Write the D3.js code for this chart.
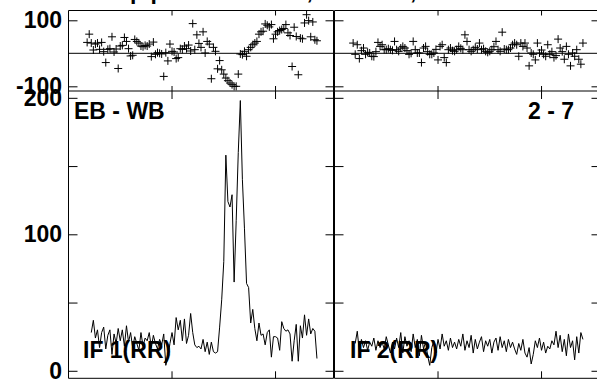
<!DOCTYPE html>
<html><head><meta charset="utf-8">
<script src="https://cdn.jsdelivr.net/npm/d3@7"></script>
<style>
html,body{margin:0;padding:0;background:#fff;}
svg{display:block;}
text{font-family:"Liberation Sans",Arial,Helvetica,sans-serif;font-weight:bold;font-size:23px;fill:#000;}
</style>
</head><body>
<svg id="chart" width="597" height="380"></svg>
<script>
// ---------- DATA ----------
const title = "Amp/phase vs. sec., EB - WB, uncalibrated";
const panelLabels = ["EB - WB", "2 - 7"];
const ifLabels = ["IF 1(RR)", "IF 2(RR)"];
const ampTicks = [0, 50, 100, 150, 200];
const ampTickLabels = ["0", "", "100", "", "200"];
const phaseTicks = [-100, 100];
const phaseTickLabels = ["-100", "100"];
const chanTicks = [50, 100];

// IF 1 amplitude, channels 11..120
const ampStart1 = 11;
const amp1 = [28,37,24,30,17,28,32,16,26,30,12,27,20,31,22,30,18,33,21,28,
  17,25,20,15,28,18,24,22,28,17,26,20,16,23,19,27,4,10,20,28,
  19,39,30,37,22,38,20,26,42,28,19,17,18,16,23,14,21,12,21,14,
  13,14,32,52,80,158,124,120,129,65,110,160,198,140,104,64,61,35,45,31,
  22,35,26,27,19,28,30,10,25,25,24,15,36,31,29,30,27,7,22,34,
  7,33,24,41,26,38,27,31,29,9];
// IF 2 amplitude, channels 10..120
const ampStart2 = 10;
const amp2 = [20,29,14,23,17,22,15,21,18,24,15,22,17,21,16,25,19,13,21,16,
  24,17,28,13,25,18,22,14,27,17,23,11,26,16,21,11,4,17,22,13,
  23,16,27,18,22,15,24,17,21,16,23,18,27,15,22,17,26,13,23,16,
  21,25,14,22,18,23,13,21,24,15,25,17,22,14,23,17,21,16,12,20,
  15,23,13,10,17,5,12,22,17,24,15,21,13,18,16,22,19,29,17,26,
  14,23,11,27,17,22,8,25,13,28,23];
// IF 1 phase (deg), channels 9..120
const phStart1 = 9;
const phase1 = [33,58,31,10,28,31,12,33,5,-28,12,14,50,4,13,-46,22,24,48,36,
  14,-8,-6,42,36,31,22,20,24,22,28,-10,34,-3,2,0,-2,-70,2,-23,
  28,6,4,-16,-13,14,12,22,14,25,7,90,11,56,30,18,65,1,36,28,
  -77,18,6,-47,-22,-50,-63,-75,-83,-90,-95,-100,-100,-63,-2,-4,6,-9,11,18,
  26,31,36,58,65,67,89,85,80,87,44,58,65,69,72,75,87,62,54,-40,
  79,51,-65,46,44,92,117,99,50,95,41,38];
// IF 2 phase (deg), channels 9..120
const phStart2 = 9;
const phase2 = [31,-3,26,-16,8,16,-3,3,1,-9,-10,5,33,21,26,11,11,14,11,9,
  36,11,6,16,21,16,8,-3,0,36,11,1,1,-28,16,21,5,-3,-3,1,
  12,-20,21,26,-13,-28,11,16,8,6,11,21,15,11,56,36,11,6,11,18,
  13,31,11,14,6,3,6,11,20,36,11,6,64,13,11,11,16,26,31,26,
  -9,31,21,31,16,-38,1,-3,-20,31,1,10,-3,-9,26,-3,5,-13,-7,43,
  16,5,-18,21,-3,-38,1,-9,11,-18,-33,31];

// ---------- LAYOUT ----------
const svg = d3.select("#chart");
const panels = [
  {x0: 68.5, x1: 333.5, amp: amp1, ampStart: ampStart1, ph: phase1, phStart: phStart1, label: panelLabels[0], ifl: ifLabels[0], left: true},
  {x0: 334.5, x1: 599.5, amp: amp2, ampStart: ampStart2, ph: phase2, phStart: phStart2, label: panelLabels[1], ifl: ifLabels[1], left: false}
];
const yP = d3.scaleLinear().domain([-114.2, 129.7]).range([91, 10.5]);
const yA = d3.scaleLinear().domain([-5.5, 205]).range([378.3, 91]);

svg.append("text").attr("x", 93).attr("y", -1.5).text(title);

panels.forEach((p, i) => {
  const x = d3.scaleLinear().domain([0, 128]).range([p.x0, p.x1]);
  const g = svg.append("g");
  const line = (x1,y1,x2,y2) => g.append("line").attr("x1",x1).attr("y1",y1).attr("x2",x2).attr("y2",y2)
      .attr("stroke","#000").attr("stroke-width",1);

  // frames
  [[p.x0,10.5,p.x1,10.5],[p.x0,91,p.x1,91],[p.x0,378.3,p.x1,378.3],
   [p.x0,10.5,p.x0,378.3],[p.x1,10.5,p.x1,378.3]].forEach(a => line(...a));
  // zero phase line
  line(p.x0, yP(0), p.x1, yP(0));

  // x ticks
  chanTicks.forEach(c => {
    const xx = x(c);
    line(xx, 10.5, xx, 15.5);
    line(xx, 91, xx, 86);
    line(xx, 91, xx, 99);
    line(xx, 378.3, xx, 371.3);
  });

  // y axes (inward ticks) via d3.axis
  const fmtA = d => ampTickLabels[ampTicks.indexOf(d)];
  const fmtP = d => phaseTickLabels[phaseTicks.indexOf(d)];
  const axA = g.append("g").attr("transform", `translate(${p.x0},0)`)
    .call(d3.axisLeft(yA).tickValues(ampTicks).tickSizeInner(-9).tickSizeOuter(0).tickPadding(6.5)
      .tickFormat(p.left ? fmtA : () => ""));
  const axP = g.append("g").attr("transform", `translate(${p.x0},0)`)
    .call(d3.axisLeft(yP).tickValues(phaseTicks).tickSizeInner(-9).tickSizeOuter(0).tickPadding(6.5)
      .tickFormat(p.left ? fmtP : () => ""));
  const axA2 = g.append("g").attr("transform", `translate(${p.x1},0)`)
    .call(d3.axisRight(yA).tickValues(ampTicks).tickSizeInner(-8).tickSizeOuter(0).tickFormat(() => ""));
  const axP2 = g.append("g").attr("transform", `translate(${p.x1},0)`)
    .call(d3.axisRight(yP).tickValues(phaseTicks).tickSizeInner(-8).tickSizeOuter(0).tickFormat(() => ""));
  [axA, axP, axA2, axP2].forEach(a => {
    a.attr("font-size", null).attr("font-family", null);
    a.select(".domain").remove();
    a.selectAll("line").attr("stroke", "#000");
    a.selectAll("text").attr("fill", "#000");
  });

  // phase markers
  g.append("g").selectAll("path").data(p.ph).join("path")
    .attr("d", (d, j) => {
      const cx = x(p.phStart + j), cy = yP(d);
      return `M${cx-4},${cy}h8M${cx},${cy-4}v8`;
    })
    .attr("stroke", "#000").attr("stroke-width", 1).attr("fill", "none");

  // amplitude spectrum
  g.append("path").datum(p.amp)
    .attr("d", d3.line().x((d, j) => x(p.ampStart + j)).y(d => yA(d)))
    .attr("fill", "none").attr("stroke", "#000").attr("stroke-width", 1);

  // labels
  if (p.left) {
    g.append("text").attr("x", 74).attr("y", 118.5).text(p.label);
    g.append("text").attr("x", 83).attr("y", 357.5).text(p.ifl);
  } else {
    g.append("text").attr("x", 574).attr("y", 118.5).attr("text-anchor", "end").text(p.label);
    g.append("text").attr("x", 350).attr("y", 357.5).text(p.ifl);
  }
});
</script>
</body></html>
